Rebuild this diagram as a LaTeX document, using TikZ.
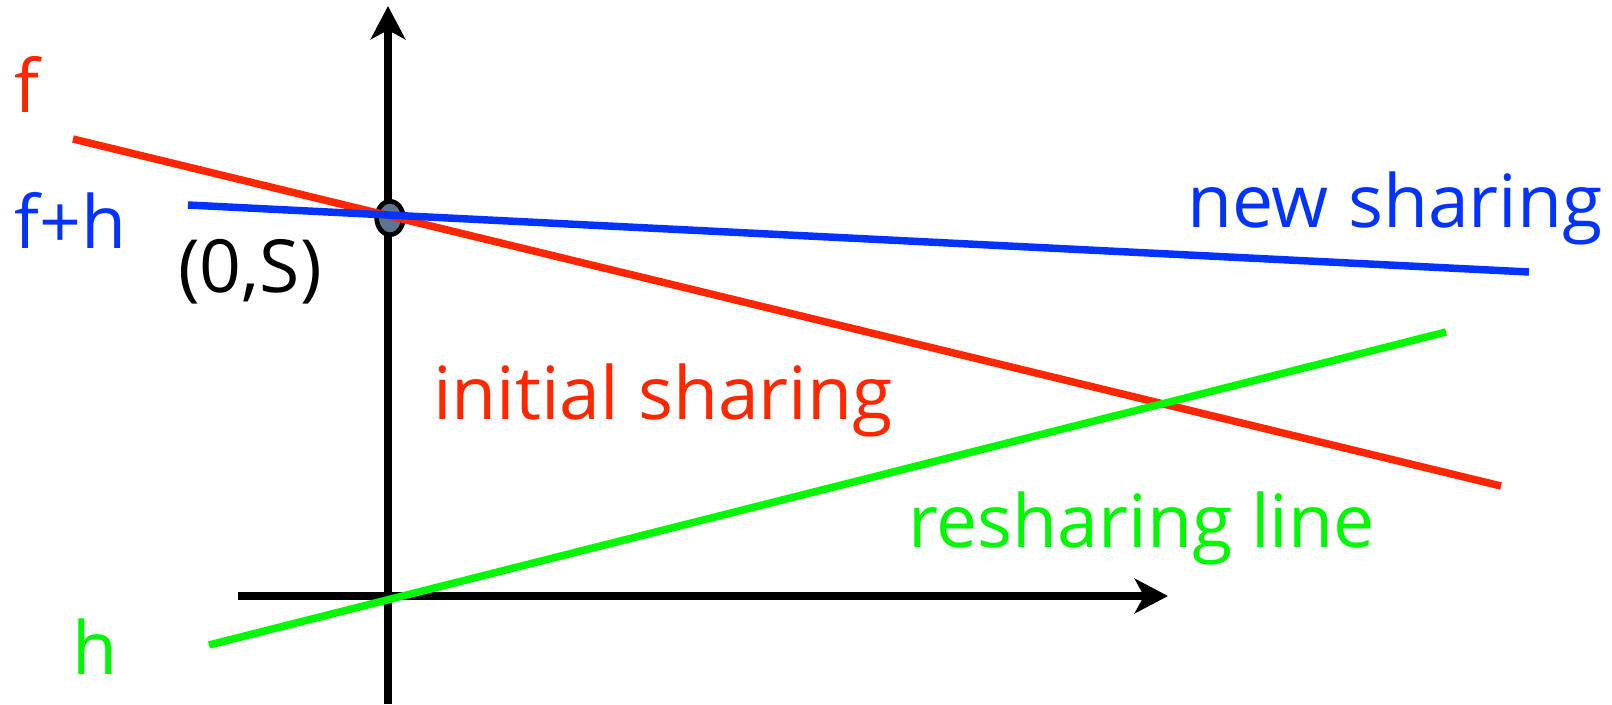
\documentclass[tikz,border=0pt]{standalone}
\usepackage{fontspec}
\setmainfont{Open Sans}
\usepackage{tikz}
\usetikzlibrary{arrows.meta,shapes.geometric}

\definecolor{shred}{RGB}{255,38,0}
\definecolor{shblue}{RGB}{4,51,255}
\definecolor{shgreen}{RGB}{0,249,0}
\definecolor{dotgray}{RGB}{94,117,145}

\tikzset{
  axis/.style={line width=6pt, -{Stealth[length=25pt, width=26pt, inset=7pt]}},
  share/.style={line width=5.6pt},
  lbl/.style={anchor=base west, inner sep=0pt, font=\fontsize{55}{60}\selectfont}
}

\begin{document}
\begin{tikzpicture}[x=0.75pt,y=0.75pt,yscale=-1,xscale=1]
\useasboundingbox (0,0) rectangle (1612,704);

% Coordinates
\coordinate (yb) at (388,704);
\coordinate (yt) at (388,6);
\coordinate (xl) at (238,596);
\coordinate (xr) at (1168,596);
\coordinate (fl) at (73,139);
\coordinate (fr) at (1501,486);
\coordinate (nl) at (188,205);
\coordinate (nr) at (1529,272);
\coordinate (hl) at (209,645);
\coordinate (hr) at (1446,332);

% Axes
\draw[axis] (yb) -- (yt);
\draw[axis] (xl) -- (xr);

% Point (0,S)
\node (s) [draw=black, fill=dotgray, line width=3.5pt, ellipse, minimum width=20pt, minimum height=25pt, inner sep=0pt] at (390,218) {};

% Lines
\draw[share, shred] (fl) -- (fr);
\draw[share, shblue] (nl) -- (nr);
\draw[share, shgreen] (hl) -- (hr);

% Text Node
\node (tf) [lbl, text=shred] at (14,112) {f};
% Text Node
\node (tfh) [lbl, text=shblue] at (14,248) {f+h};
% Text Node
\node (th) [lbl, text=shgreen] at (72,674) {h};
% Text Node
\node (ts) [lbl, text=black] at (178,292) {(0,S)};
% Text Node
\node (tnew) [lbl, text=shblue] at (1187,227) {new sharing};
% Text Node
\node (tinit) [lbl, text=shred] at (433,419) {initial sharing};
% Text Node
\node (tres) [lbl, text=shgreen] at (908,547) {resharing line};

\end{tikzpicture}
\end{document}
